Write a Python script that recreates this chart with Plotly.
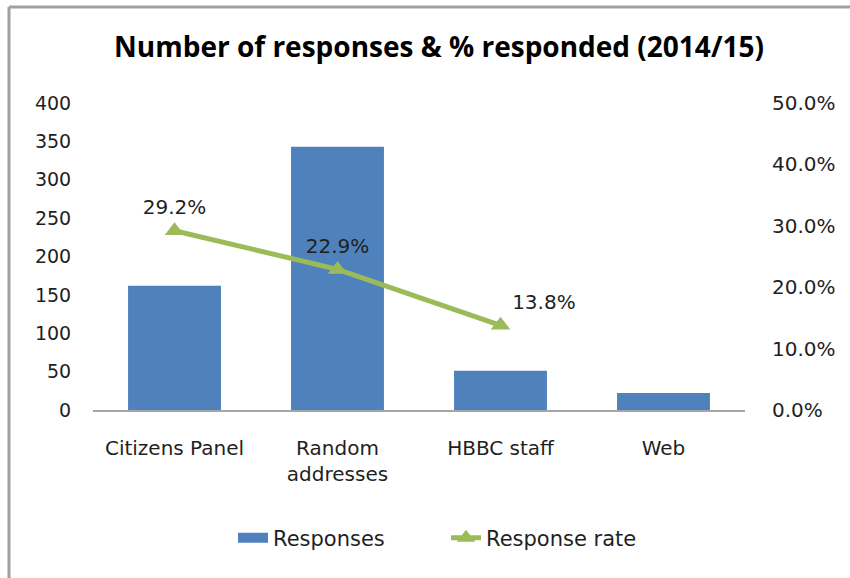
import plotly.graph_objects as go

categories = ["Citizens Panel", "Random<br>addresses", "HBBC staff", "Web"]
responses = [162, 343, 51, 22]
rate_categories = ["Citizens Panel", "Random<br>addresses", "HBBC staff"]
response_rate = [0.292, 0.229, 0.138]
rate_labels = ["29.2%", "22.9%", "13.8%"]
left_ticks = [0, 50, 100, 150, 200, 250, 300, 350, 400]
right_ticks = [0, 0.1, 0.2, 0.3, 0.4, 0.5]

FONT = "DejaVu Sans"
BLUE = "#4F81BD"
GREEN = "#9BBB59"
TXT = "#1f1f1f"

fig = go.Figure()
fig.add_trace(go.Bar(
    x=categories, y=responses, name="Responses", showlegend=False,
    marker=dict(color=BLUE, line=dict(width=0)),
    width=0.57, yaxis="y"))
# legend-only entry giving the wide rectangular swatch
fig.add_trace(go.Scatter(
    x=[None], y=[None], name="Responses", mode="lines",
    line=dict(color=BLUE, width=14), yaxis="y"))
fig.add_trace(go.Scatter(
    x=rate_categories, y=response_rate, name="Response rate",
    mode="lines+markers+text", yaxis="y2",
    line=dict(color=GREEN, width=5),
    marker=dict(symbol="triangle-up", size=17, color=GREEN),
    text=rate_labels, textposition=["top center", "top center", "top right"],
    textfont=dict(family=FONT, size=20, color=TXT)))

fig.update_layout(
    width=850, height=578,
    margin=dict(l=93, r=105, t=103, b=168),
    paper_bgcolor="white", plot_bgcolor="white",
    font=dict(family=FONT, size=20, color=TXT),
    title=dict(text="<b>Number of responses & % responded (2014/15)</b>",
               x=439 / 850, xref="container", xanchor="center",
               y=1 - 47 / 578, yref="container", yanchor="middle",
               font=dict(family="Open Sans", size=28, color="#000")),
    xaxis=dict(showline=True, linecolor="#A6A6A6", linewidth=2, ticks="",
               showgrid=False, ticklabelstandoff=19,
               tickfont=dict(family=FONT, size=20, color=TXT)),
    yaxis=dict(range=[0, 400], tickvals=left_ticks, showgrid=False,
               showline=False, zeroline=False, ticks="outside", ticklen=17,
               tickcolor="rgba(0,0,0,0)",
               tickfont=dict(family=FONT, size=19, color=TXT)),
    yaxis2=dict(range=[0, 0.5], tickvals=right_ticks, tickformat=".1%",
                overlaying="y", side="right", showgrid=False, showline=False,
                zeroline=False, ticks="outside", ticklen=22,
                tickcolor="rgba(0,0,0,0)",
                tickfont=dict(family=FONT, size=20, color=TXT)),
    legend=dict(orientation="h", x=(446 - 93) / 652, xanchor="center",
                y=(410 - 538) / 307, yanchor="middle",
                entrywidth=168, entrywidthmode="pixels",
                font=dict(family=FONT, size=21, color=TXT)),
    shapes=[
        dict(type="line", xref="paper", yref="paper",
             x0=(9 - 93) / 652, x1=(9 - 93) / 652,
             y0=(410 - 600) / 307, y1=(410 - 7) / 307,
             line=dict(color="#A0A0A0", width=3)),
        dict(type="line", xref="paper", yref="paper",
             x0=(9 - 93) / 652, x1=(870 - 93) / 652,
             y0=(410 - 7) / 307, y1=(410 - 7) / 307,
             line=dict(color="#A0A0A0", width=3)),
    ],
)
fig.write_html("out.html")
